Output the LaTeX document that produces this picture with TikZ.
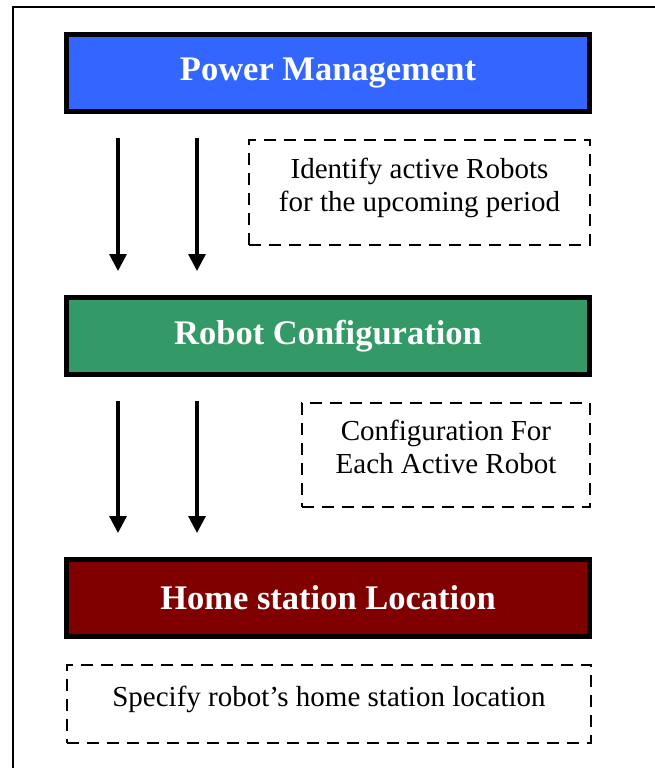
\documentclass[tikz,border=0pt]{standalone}
\usepackage{fontspec}
\setmainfont{Liberation Serif}
\usetikzlibrary{arrows.meta}
\definecolor{pmblau}{HTML}{3366FF}
\definecolor{rcgruen}{HTML}{339966}
\definecolor{hsrot}{HTML}{800000}

\begin{document}
\begin{tikzpicture}[
  x=1pt, y=-1pt, % Pixelkoordinaten, y nach unten
  stufe/.style={draw=black, line width=5pt, minimum width=523pt, minimum height=77pt,
    text=white, font=\fontsize{34.5}{38}\selectfont\bfseries, inner sep=0pt},
  hinweis/.style={draw=black, line width=2.7pt, dash pattern=on 12pt off 8pt,
    align=center, font=\fontsize{29}{33}\selectfont, inner sep=0pt, text depth=16pt},
  pfeil/.style={line width=3.2pt, -{Stealth[inset=0pt,length=17pt,width=17pt]}}
  ]
\useasboundingbox (0,0) rectangle (654,768);
% Rahmen (rechts und unten abgeschnitten)
  \draw[line width=2.2pt] (13,7) rectangle (664,780);
% Stufen
  \node[stufe, fill=pmblau] (pm) at (328,73) {Power Management};
  \node[stufe, fill=rcgruen] (rc) at (328,336) {Robot Configuration};
  \node[stufe, fill=hsrot] (hs) at (328,598) {Home station Location};
% Hinweise
  \node[hinweis, minimum width=341pt, minimum height=105pt] (aktiv) at (419.5,192.5)
    {Identify active Robots\\for the upcoming period};
  \node[hinweis, minimum width=288pt, minimum height=104pt] (konf) at (446,455)
    {Configuration For\\Each Active Robot};
  \node[hinweis, minimum width=524pt, minimum height=78pt] (ort) at (329,704)
    {Specify robot’s home station location};
% Pfeile
  \coordinate (a1s) at (118,138); \coordinate (a1e) at (118,271);
  \coordinate (a2s) at (197,138); \coordinate (a2e) at (197,271);
  \coordinate (b1s) at (118,401); \coordinate (b1e) at (118,533);
  \coordinate (b2s) at (197,401); \coordinate (b2e) at (197,533);
  \foreach \p in {a1,a2,b1,b2}\draw[pfeil] (\p s) -- (\p e);
\end{tikzpicture}
\end{document}
